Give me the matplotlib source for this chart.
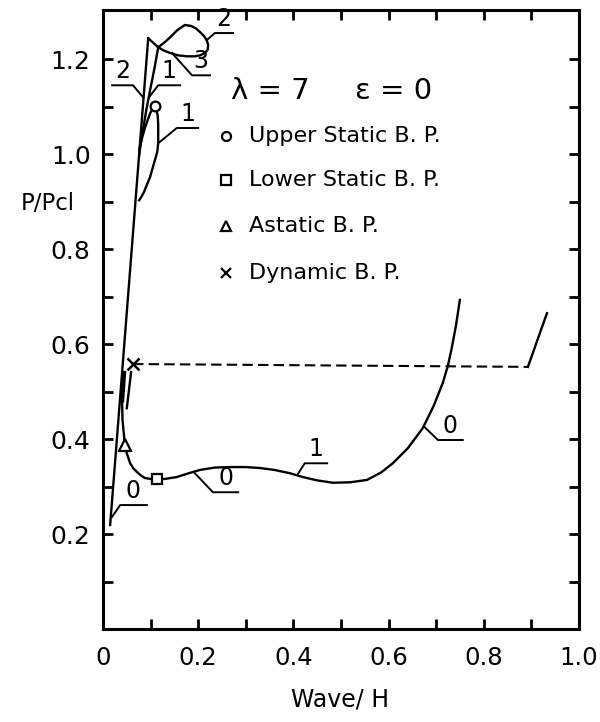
import numpy as np
import matplotlib.pyplot as plt

# initial (straight) loading path
main_x = [0.015, 0.095]
main_y = [0.219, 1.244]

# path 2, loop at the top
loop2_x = [0.095, 0.116, 0.130, 0.141, 0.156, 0.172, 0.185, 0.195, 0.204, 0.212, 0.218, 0.221,
           0.220, 0.214, 0.204, 0.193, 0.176, 0.158, 0.141, 0.126, 0.116]
loop2_y = [1.244, 1.225, 1.236, 1.246, 1.261, 1.272, 1.270, 1.265, 1.257, 1.249, 1.240, 1.230,
           1.220, 1.213, 1.208, 1.206, 1.206, 1.208, 1.213, 1.219, 1.225]

# path 1, line down from the loop
line1_x = [0.116, 0.108, 0.099, 0.091, 0.084, 0.079, 0.076]
line1_y = [1.225, 1.180, 1.135, 1.093, 1.051, 1.020, 0.998]

# path 1, inner loop through the upper static point
loop1_x = [0.076, 0.081, 0.088, 0.094, 0.099, 0.104, 0.108, 0.112, 0.115, 0.116, 0.116,
           0.114, 0.109, 0.104, 0.099, 0.092, 0.086, 0.080, 0.076]
loop1_y = [1.008, 1.030, 1.055, 1.072, 1.086, 1.095, 1.099, 1.095, 1.080, 1.061, 1.023,
           1.005, 0.987, 0.970, 0.952, 0.935, 0.920, 0.909, 0.903]

# path 0, post-buckling curve
curve0_x = [0.044, 0.040, 0.041, 0.046, 0.050, 0.057, 0.064, 0.071, 0.080, 0.088, 0.100,
            0.113, 0.130, 0.155, 0.180, 0.204, 0.235, 0.267, 0.300, 0.330, 0.360, 0.393,
            0.420, 0.450, 0.483, 0.520, 0.555, 0.585, 0.609, 0.640, 0.672, 0.695, 0.714,
            0.725, 0.733, 0.742, 0.750]
curve0_y = [0.539, 0.482, 0.440, 0.387, 0.370, 0.349, 0.338, 0.331, 0.323, 0.318, 0.316,
            0.316, 0.316, 0.320, 0.328, 0.335, 0.340, 0.341, 0.341, 0.339, 0.335, 0.328,
            0.320, 0.313, 0.308, 0.309, 0.314, 0.330, 0.349, 0.380, 0.423, 0.470, 0.518,
            0.555, 0.592, 0.640, 0.693]

# dynamic buckling level
dyn_x = [0.063, 0.893]
dyn_y = [0.558, 0.552]
dyn_tail_x = [0.893, 0.933]
dyn_tail_y = [0.552, 0.665]
dyn_stub_x = [0.059, 0.050]
dyn_stub_y = [0.541, 0.465]

# buckling points
upper_pt = (0.109, 1.101)
lower_pt = (0.113, 0.316)
astatic_pt = (0.046, 0.387)
dynamic_pt = (0.063, 0.558)

fig = plt.figure(figsize=(6, 7.22), dpi=100)
ax = fig.add_axes([0.1717, 0.1288, 0.793, 0.857])

lw = 1.7
k = 'black'
ax.plot(main_x, main_y, color=k, lw=lw)
ax.plot(loop2_x, loop2_y, color=k, lw=lw)
ax.plot(line1_x, line1_y, color=k, lw=lw)
ax.plot(loop1_x, loop1_y, color=k, lw=lw)
ax.plot(curve0_x, curve0_y, color=k, lw=lw)
ax.plot(curve0_x[:2], curve0_y[:2], color=k, lw=3.2)
ax.plot(dyn_x, dyn_y, color=k, lw=1.5, ls=(0, (5, 2.5)))
ax.plot(dyn_tail_x, dyn_tail_y, color=k, lw=lw)
ax.plot(dyn_stub_x, dyn_stub_y, color=k, lw=lw)

ax.plot(*upper_pt, marker='o', ms=7, mfc='white', mec=k, mew=1.6)
ax.plot(*lower_pt, marker='s', ms=7, mfc='white', mec=k, mew=1.6)
ax.plot(*astatic_pt, marker='^', ms=9, mfc='white', mec=k, mew=1.6)
ax.plot(*dynamic_pt, marker='x', ms=8, mec=k, mew=1.8)


def tag(txt, pt, elbow, end):
    # leader from the curve to an underline carrying the path number
    ax.plot([pt[0], elbow[0], end[0]], [pt[1], elbow[1], elbow[1]], color=k, lw=1.4)
    ax.text((elbow[0] + end[0]) / 2, elbow[1] + 0.004, txt, ha='center', va='bottom',
            fontsize=17)


tag('2', (0.218, 1.240), (0.235, 1.255), (0.273, 1.255))
tag('3', (0.145, 1.213), (0.187, 1.166), (0.225, 1.166))
tag('2', (0.084, 1.120), (0.063, 1.145), (0.019, 1.145))
tag('1', (0.097, 1.120), (0.116, 1.145), (0.162, 1.145))
tag('1', (0.116, 1.023), (0.155, 1.055), (0.200, 1.055))
tag('0', (0.019, 0.236), (0.036, 0.261), (0.092, 0.261))
tag('0', (0.193, 0.328), (0.231, 0.288), (0.284, 0.288))
tag('1', (0.408, 0.324), (0.424, 0.349), (0.471, 0.349))
tag('0', (0.676, 0.425), (0.704, 0.398), (0.756, 0.398))

# parameters and key
ax.text(0.270, 1.132, 'λ = 7', fontsize=21, va='center', ha='left')
ax.text(0.530, 1.132, 'ε = 0', fontsize=21, va='center', ha='left')
key = [('o', 'Upper Static B. P.', 1.038), ('s', 'Lower Static B. P.', 0.945),
       ('^', 'Astatic B. P.', 0.848), ('x', 'Dynamic B. P.', 0.750)]
for m, lab, yy in key:
    ax.plot(0.259, yy, marker=m, ms=6.5, mfc='white', mec=k, mew=1.6)
    ax.text(0.306, yy, lab, fontsize=16, va='center', ha='left')

ax.set_xlim(0, 1.0)
ax.set_ylim(0, 1.303)
ax.set_xticks(np.arange(0, 1.01, 0.2))
ax.set_xticklabels(['0', '0.2', '0.4', '0.6', '0.8', '1.0'])
ax.set_xticks(np.arange(0.1, 1.0, 0.2), minor=True)
ax.set_yticks(np.arange(0.2, 1.21, 0.2))
ax.set_yticklabels(['0.2', '0.4', '0.6', '0.8', '1.0', '1.2'])
ax.set_yticks(np.arange(0.1, 1.3, 0.2), minor=True)
ax.tick_params(which='both', direction='in', top=True, right=True, length=7, width=2)
ax.tick_params(axis='x', which='major', labelsize=17.5, pad=12)
ax.tick_params(axis='y', which='major', labelsize=18, pad=9)
for s in ax.spines.values():
    s.set_linewidth(2.2)

fig.text(0.567, 0.031, 'Wave/ H', fontsize=17, ha='center', va='center')
fig.text(0.08, 0.718, 'P/Pcl', fontsize=16.5, ha='center', va='center')

fig.savefig('out.png', dpi=100)
